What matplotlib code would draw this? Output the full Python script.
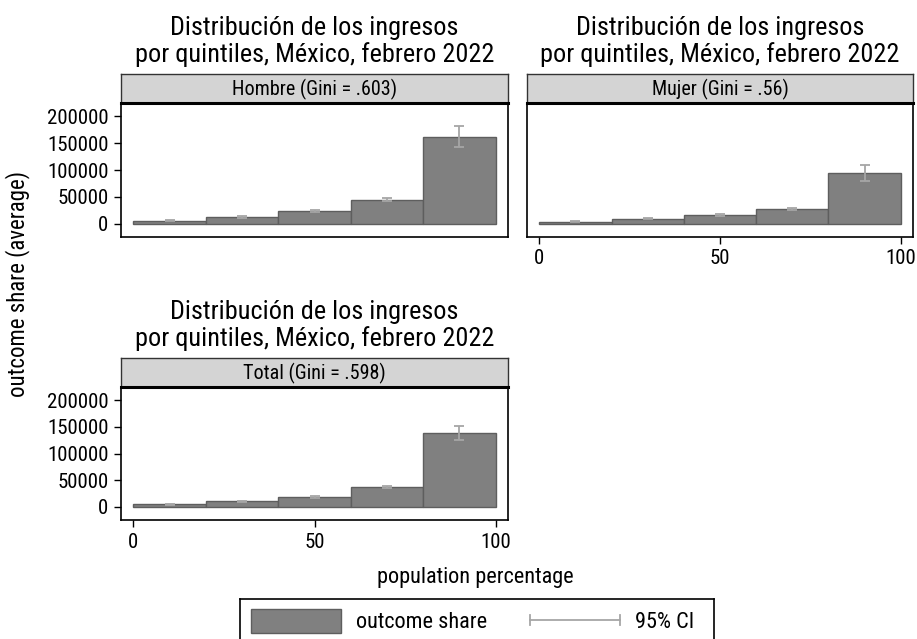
import matplotlib
matplotlib.use("Agg")
import matplotlib.pyplot as plt
from matplotlib import font_manager
from matplotlib.patches import Rectangle
from matplotlib.lines import Line2D

names = {f.name for f in font_manager.fontManager.ttflist}
base_font = next((n for n in ["Nimbus Sans Narrow", "Liberation Sans Narrow",
                              "Arial Narrow", "Roboto Condensed"] if n in names),
                 "Liberation Sans")
plt.rcParams["font.family"] = [base_font, "DejaVu Sans"]

# Quintile edges (population percentage)
edges = [0, 20, 40, 60, 80, 100]

panels = ["Hombre (Gini = .603)", "Mujer (Gini = .56)", "Total (Gini = .598)"]

hombre_mean = [6200, 12500, 24200, 44100, 160900]
hombre_lo = [5300, 11300, 22600, 41600, 142200]
hombre_hi = [7100, 13700, 25800, 49000, 181400]

mujer_mean = [4300, 9300, 16200, 28000, 94500]
mujer_lo = [3700, 8300, 14800, 25600, 80100]
mujer_hi = [4900, 10300, 17600, 30400, 110000]

total_mean = [5000, 10700, 18800, 37500, 138700]
total_lo = [4300, 9700, 17400, 35200, 125000]
total_hi = [5700, 11700, 20200, 39800, 151800]

title_lines = ["Distribución de los ingresos", "por quintiles, México, febrero 2022"]
ylabel = "outcome share (average)"
xlabel = "population percentage"
yticks = [0, 50000, 100000, 150000, 200000]
xticks = [0, 50, 100]

bar_face = "#808080"
bar_edge = "#5e5e5e"
ci_color = "#a6a6a6"
strip_face = "#d4d4d4"

W, H = 917, 639
fig = plt.figure(figsize=(W / 100, H / 100), dpi=100)


def ax_rect(left, top, right, bottom):
    return [left / W, 1 - bottom / H, (right - left) / W, (bottom - top) / H]


data = [
    (hombre_mean, hombre_lo, hombre_hi),
    (mujer_mean, mujer_lo, mujer_hi),
    (total_mean, total_lo, total_hi),
]
boxes = [
    (121, 103, 508, 237),
    (527, 103, 913, 237),
    (121, 387, 508, 520),
]
show_y = [True, False, True]
show_x = [False, True, True]

for (mean, lo, hi), box, label, sy, sx in zip(data, boxes, panels, show_y, show_x):
    ax = fig.add_axes(ax_rect(*box))
    lefts = edges[:-1]
    widths = [b - a for a, b in zip(edges[:-1], edges[1:])]
    mids = [(a + b) / 2 for a, b in zip(edges[:-1], edges[1:])]
    ax.bar(lefts, mean, width=widths, align="edge", color=bar_face,
           edgecolor=bar_edge, linewidth=1.0, zorder=2)
    ax.errorbar(mids, mean,
                yerr=[[m - l for m, l in zip(mean, lo)], [h - m for m, h in zip(mean, hi)]],
                fmt="none", ecolor=ci_color, elinewidth=1.3, capsize=3.8,
                capthick=1.3, zorder=3)
    ax.set_xlim(-3.4, 103.4)
    ax.set_ylim(-24500, 225000)
    for s in ax.spines.values():
        s.set_linewidth(1.2)
        s.set_color("black")
    if sy:
        ax.set_yticks(yticks)
        ax.set_yticklabels([str(v) for v in yticks], fontsize=15)
    else:
        ax.set_yticks([])
    if sx:
        ax.set_xticks(xticks)
        ax.set_xticklabels([str(v) for v in xticks], fontsize=15)
    else:
        ax.set_xticks([])
    ax.tick_params(direction="out", length=5, width=1, pad=4)

    # facet strip
    left, top, right, bottom = box
    sax = fig.add_axes(ax_rect(left, top - 29, right, top))
    sax.set_xticks([])
    sax.set_yticks([])
    sax.set_facecolor(strip_face)
    for s in sax.spines.values():
        s.set_linewidth(1.0)
        s.set_color("#333333")
    sax.spines["bottom"].set_linewidth(2.2)
    sax.spines["bottom"].set_color("black")
    sax.text(0.5, 0.47, label, ha="center", va="center", fontsize=14.5,
             transform=sax.transAxes)

    # panel title, two lines
    cx = (left + right) / 2
    fig.text(cx / W, 1 - (top - 68) / H, title_lines[0], ha="center",
             va="baseline", fontsize=18.9)
    fig.text(cx / W, 1 - (top - 41) / H, title_lines[1], ha="center",
             va="baseline", fontsize=18.9)

fig.text(18 / W, 1 - 284 / H, ylabel, rotation=90, ha="center", va="center",
         fontsize=16.5)
fig.text(475 / W, 1 - 578 / H, xlabel, ha="center", va="center", fontsize=16)

# legend box
lax = fig.add_axes(ax_rect(240, 599, 714, 645))
lax.set_xlim(240, 714)
lax.set_ylim(645, 599)
lax.set_xticks([])
lax.set_yticks([])
for s in lax.spines.values():
    s.set_linewidth(1.2)
lax.add_patch(Rectangle((251, 609), 90, 24, facecolor=bar_face,
                        edgecolor=bar_edge, linewidth=1.0))
lax.text(356, 622, "outcome share", ha="left", va="center", fontsize=16)
lax.add_line(Line2D([530, 620], [620, 620], color=ci_color, linewidth=1.3))
lax.add_line(Line2D([530, 530], [615, 625], color=ci_color, linewidth=1.3))
lax.add_line(Line2D([620, 620], [615, 625], color=ci_color, linewidth=1.3))
lax.text(635, 622, "95% CI", ha="left", va="center", fontsize=16)

fig.savefig("out.png", dpi=100, facecolor="white")
